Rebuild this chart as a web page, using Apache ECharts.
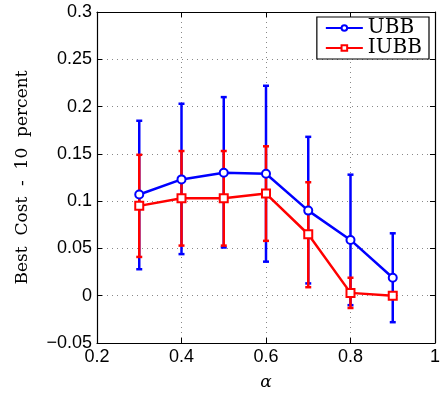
<!DOCTYPE html>
<html><head><meta charset="utf-8">
<script src="https://cdn.jsdelivr.net/npm/echarts@6/dist/echarts.min.js"></script>
<style>html,body{margin:0;padding:0;background:#fff}#c{width:443px;height:396px}</style>
</head><body><div id="c"></div>
<script>
const alpha = [0.3, 0.4, 0.5, 0.6, 0.7, 0.8, 0.9];
const ubbMean = [0.107, 0.123, 0.130, 0.129, 0.090, 0.059, 0.019];
const ubbLow  = [0.028, 0.044, 0.051, 0.036, 0.013, -0.010, -0.028];
const ubbHigh = [0.185, 0.203, 0.210, 0.222, 0.168, 0.128, 0.066];
const iubbMean = [0.095, 0.103, 0.103, 0.108, 0.065, 0.003, 0.000];
const iubbLow  = [0.041, 0.053, 0.053, 0.058, 0.009, -0.013, -0.001];
const iubbHigh = [0.149, 0.153, 0.153, 0.158, 0.120, 0.019, 0.001];
const xTicks = {min: 0.2, max: 1, interval: 0.2};
const yTicks = {min: -0.05, max: 0.3, interval: 0.05};

const chart = echarts.init(document.getElementById('c'), null, {renderer: 'canvas'});
const fmt = v => { const r = +(+v).toFixed(3); return r < 0 ? '\u2212' + String(-r) : String(r); };
const labelFont = {fontFamily: 'Liberation Sans, Arial, sans-serif', fontSize: 18, color: '#000'};
function errSeries(name, lo, hi, color) {
  return {
    type: 'custom', name: name, z: 3,
    data: alpha.map((a, i) => [a, lo[i], hi[i]]),
    renderItem: (params, api) => {
      const x = api.value(0);
      const p1 = api.coord([x, api.value(1)]);
      const p2 = api.coord([x, api.value(2)]);
      const w = 3;
      const st = {stroke: color, lineWidth: 2.5};
      return {type: 'group', children: [
        {type: 'line', shape: {x1: p1[0], y1: p1[1], x2: p2[0], y2: p2[1]}, style: st},
        {type: 'line', shape: {x1: p1[0]-w, y1: p1[1], x2: p1[0]+w, y2: p1[1]}, style: st},
        {type: 'line', shape: {x1: p2[0]-w, y1: p2[1], x2: p2[0]+w, y2: p2[1]}, style: st}
      ]};
    }
  };
}
const axisCommon = {
  axisLine: {show: true, onZero: false, lineStyle: {color: '#000', width: 1.2}},
  axisTick: {show: true, inside: true, length: 5, lineStyle: {color: '#000'}},
};
chart.setOption({
  animation: false,
  grid: {left: 97, right: 8, top: 12, bottom: 47},
  legend: {
    data: [{name: 'UBB'}, {name: 'IUBB'}],
    right: 14, top: 17, orient: 'vertical',
    backgroundColor: '#fff', borderColor: '#000', borderWidth: 1.2,
    padding: [1, 7, 1, 8], itemGap: 0, itemWidth: 37, itemHeight: 7,
    textStyle: {fontFamily: 'DejaVu Serif, Liberation Serif, serif', fontSize: 20, lineHeight: 17, color: '#000'}
  },
  xAxis: [
    Object.assign({type: 'value', min: xTicks.min, max: xTicks.max, interval: xTicks.interval,
      name: '\u03b1', nameLocation: 'middle', nameGap: 31,
      nameTextStyle: {fontFamily: 'DejaVu Serif, serif', fontStyle: 'italic', fontSize: 17, color: '#000'},
      axisLabel: Object.assign({formatter: fmt, margin: 5}, labelFont),
      splitLine: {show: true, lineStyle: {color: '#888', type: [1, 4], width: 1}}}, axisCommon),
    Object.assign({type: 'value', position: 'top', min: xTicks.min, max: xTicks.max, interval: xTicks.interval,
      axisLabel: {show: false}, splitLine: {show: false}}, axisCommon)
  ],
  yAxis: [
    Object.assign({type: 'value', min: yTicks.min, max: yTicks.max, interval: yTicks.interval,
      name: 'Best  Cost  -  10  percent', nameLocation: 'middle', nameGap: 66,
      nameTextStyle: {fontFamily: 'DejaVu Serif, Liberation Serif, serif', fontSize: 17, color: '#000'},
      axisLabel: Object.assign({formatter: fmt, margin: 5}, labelFont),
      splitLine: {show: true, lineStyle: {color: '#888', type: [1, 4], width: 1}}}, axisCommon),
    Object.assign({type: 'value', position: 'right', min: yTicks.min, max: yTicks.max, interval: yTicks.interval,
      axisLabel: {show: false}, splitLine: {show: false}}, axisCommon)
  ],
  series: [
    errSeries('UBBerr', ubbLow, ubbHigh, '#0000ff'),
    {type: 'line', name: 'UBB', z: 4, data: alpha.map((a, i) => [a, ubbMean[i]]),
      symbol: 'emptyCircle', symbolSize: 8, showAllSymbol: true,
      lineStyle: {color: '#0000ff', width: 2.5}, itemStyle: {color: '#0000ff', borderWidth: 2.2, borderColor: '#0000ff'}},
    errSeries('IUBBerr', iubbLow, iubbHigh, '#ff0000'),
    {type: 'line', name: 'IUBB', z: 5, data: alpha.map((a, i) => [a, iubbMean[i]]),
      symbol: 'emptyRect', symbolSize: 8, showAllSymbol: true,
      lineStyle: {color: '#ff0000', width: 2.5}, itemStyle: {color: '#ff0000', borderWidth: 2.2, borderColor: '#ff0000'}}
  ]
});
</script></body></html>
